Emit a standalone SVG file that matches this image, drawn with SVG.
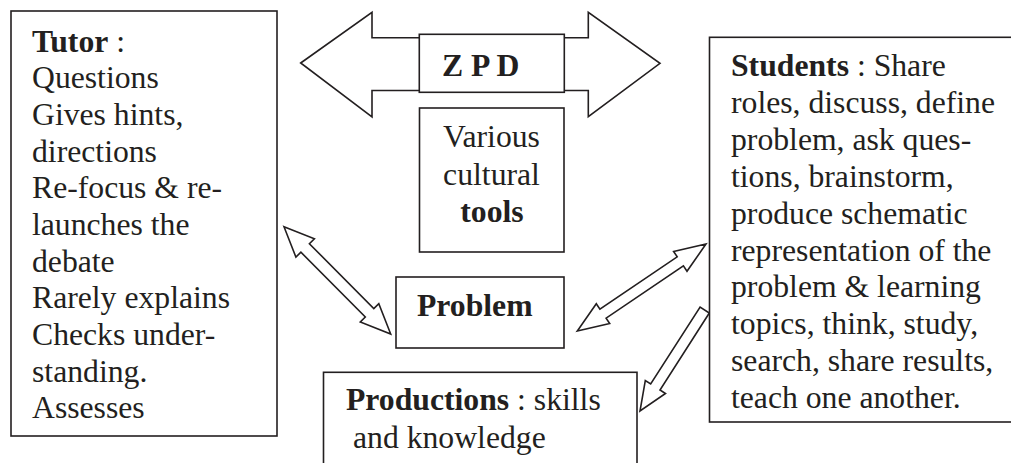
<svg xmlns="http://www.w3.org/2000/svg" width="1011" height="463" viewBox="0 0 1011 463" font-family="Liberation Serif, serif">
<style>
.box{fill:#fff;stroke:#231f20;stroke-width:1.6}
.arr{fill:#fff;stroke:#231f20;stroke-width:1.6;stroke-linejoin:miter}
text{font-size:31.7px;fill:#231f20}
.b{font-weight:bold}
</style>
<rect width="1011" height="463" fill="#fff"/>
<g id="connectors">
<polygon class="arr" points="300.7,63 372,12.3 372,37.7 588.3,37.7 588.3,12.3 660,63.3 588.3,116.7 588.3,90.5 372,90.5 372,117"/>
<polygon class="arr" points="284,226.7 314.4,238.8 309.4,243.7 373.8,308.5 378.8,303.6 390.7,334 360.3,321.9 365.3,317 300.9,252.2 295.9,257.1"/>
<polygon class="arr" points="577.3,331 609.7,323.6 606.1,318.2 683.4,265.9 687,271.3 706,244 673.6,251.4 677.2,256.8 599.9,309.1 596.3,303.7"/>
<polygon class="arr" points="709.3,313 660,390 665.5,393.5 640,411 645.3,380.5 650.7,384 700.1,307"/>
</g>
<g id="tutor">
<rect class="box" x="11" y="11" width="266" height="425"/>
<text x="32" y="51.7"><tspan class="b">Tutor</tspan> :</text>
<text x="32" y="88.4">Questions</text>
<text x="32" y="125">Gives hints,</text>
<text x="32" y="161.7">directions</text>
<text x="32" y="198.3">Re-focus &amp; re-</text>
<text x="32" y="235">launches the</text>
<text x="32" y="271.7">debate</text>
<text x="32" y="308.3">Rarely explains</text>
<text x="32" y="345">Checks under-</text>
<text x="32" y="381.6">standing.</text>
<text x="32" y="418.3">Assesses</text>
</g>
<g id="zpd">
<rect class="box" x="419.3" y="34.3" width="145" height="58"/>
<text class="b" x="442" y="76">Z P D</text>
</g>
<g id="tools">
<rect class="box" x="419.5" y="108" width="144.5" height="144"/>
<text x="491.5" y="147" text-anchor="middle">Various</text>
<text x="491.5" y="185" text-anchor="middle">cultural</text>
<text class="b" x="492" y="222" text-anchor="middle">tools</text>
</g>
<g id="problem">
<rect class="box" x="396" y="277" width="168" height="71"/>
<text class="b" x="417" y="316">Problem</text>
</g>
<g id="students">
<rect class="box" x="709.5" y="37.3" width="310" height="384.7"/>
<text x="731" y="76"><tspan class="b">Students</tspan> : Share</text>
<text x="731" y="112.9">roles, discuss, define</text>
<text x="731" y="149.8">problem, ask ques-</text>
<text x="731" y="186.7">tions, brainstorm,</text>
<text x="731" y="223.6">produce schematic</text>
<text x="731" y="260.5">representation of the</text>
<text x="731" y="297.4">problem &amp; learning</text>
<text x="731" y="334.3">topics, think, study,</text>
<text x="731" y="371.2">search, share results,</text>
<text x="731" y="408.3">teach one another.</text>
</g>
<g id="productions">
<rect class="box" x="323.5" y="372.3" width="313.5" height="100"/>
<text x="346" y="410"><tspan class="b">Productions</tspan> : skills</text>
<text x="353" y="448">and knowledge</text>
</g>
</svg>
